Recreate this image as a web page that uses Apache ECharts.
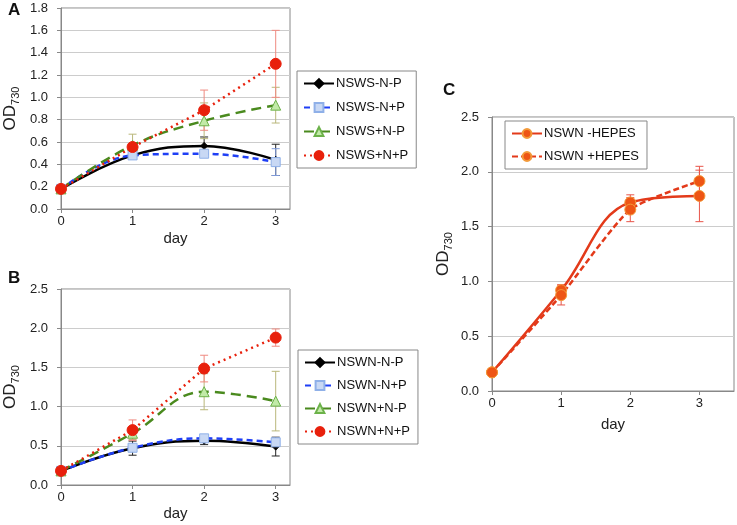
<!DOCTYPE html>
<html>
<head>
<meta charset="utf-8">
<script src="https://cdn.jsdelivr.net/npm/echarts@6/dist/echarts.min.js"></script>
<style>
  html, body { margin: 0; padding: 0; background: #fff; }
  #container { width: 737px; height: 525px; }
</style>
</head>
<body>
<div id="container"></div>
<script>
// days on x
let days = [0, 1, 2, 3];

// panel A (NSWS) - means and +/- error
let aNames = ['NSWS-N-P', 'NSWS-N+P', 'NSWS+N-P', 'NSWS+N+P'];
let aBlack = [0.18, 0.48, 0.565, 0.44];
let aBlackErr = [0.01, 0.02, 0.08, 0.14];
let aBlue = [0.18, 0.48, 0.495, 0.42];
let aBlueErr = [0.01, 0.02, 0.03, 0.12];
let aGreen = [0.18, 0.57, 0.79, 0.93];
let aGreenErr = [0.01, 0.10, 0.16, 0.16];
let aRed = [0.18, 0.555, 0.885, 1.30];
let aRedErr = [0.01, 0.03, 0.18, 0.30];

// panel B (NSWN)
let bNames = ['NSWN-N-P', 'NSWN-N+P', 'NSWN+N-P', 'NSWN+N+P'];
let bBlack = [0.18, 0.47, 0.565, 0.49];
let bBlackErr = [0.01, 0.09, 0.05, 0.12];
let bBlue = [0.18, 0.475, 0.595, 0.545];
let bBlueErr = [0.01, 0.03, 0.03, 0.05];
let bGreen = [0.18, 0.66, 1.19, 1.07];
let bGreenErr = [0.01, 0.08, 0.23, 0.38];
let bRed = [0.18, 0.70, 1.485, 1.88];
let bRedErr = [0.01, 0.13, 0.17, 0.11];

// panel C (HEPES)
let cNames = ['NSWN -HEPES', 'NSWN +HEPES'];
let cMinus = [0.17, 0.92, 1.72, 1.78];
let cMinusErr = [0.01, 0.05, 0.07, 0.235];
let cPlus = [0.17, 0.875, 1.655, 1.915];
let cPlusErr = [0.01, 0.09, 0.11, 0.135];

let font = 'Liberation Sans, Arial, sans-serif';

function pts(vals) {
    return days.map((d, i) => [d, vals[i]]);
}

function errBars(name, vals, errs, color, axis) {
    return {
        name: name + ' err',
        type: 'custom',
        xAxisIndex: axis,
        yAxisIndex: axis,
        silent: true,
        z: 1,
        data: days.map((d, i) => [d, vals[i] - errs[i], vals[i] + errs[i]]),
        renderItem: function (params, api) {
            let lo = api.coord([api.value(0), api.value(1)]);
            let hi = api.coord([api.value(0), api.value(2)]);
            let w = 4;
            let st = { stroke: color, lineWidth: 1 };
            return {
                type: 'group',
                children: [
                    { type: 'line', shape: { x1: lo[0], y1: lo[1], x2: hi[0], y2: hi[1] }, style: st },
                    { type: 'line', shape: { x1: lo[0] - w, y1: lo[1], x2: lo[0] + w, y2: lo[1] }, style: st },
                    { type: 'line', shape: { x1: hi[0] - w, y1: hi[1], x2: hi[0] + w, y2: hi[1] }, style: st }
                ]
            };
        }
    };
}

function lineSeries(name, vals, axis, o) {
    return {
        name: name,
        type: 'line',
        xAxisIndex: axis,
        yAxisIndex: axis,
        data: pts(vals),
        smooth: o.smooth,
        symbol: o.symbol,
        symbolSize: o.size,
        z: 3,
        lineStyle: { color: o.line, width: 2.5, type: o.type },
        itemStyle: { color: o.fill, borderColor: o.border, borderWidth: 1 }
    };
}

let styBlack = { line: '#000', fill: '#000', border: '#000', symbol: 'diamond', size: 7, type: 'solid', smooth: 0.4 };
let styBlue = { line: '#1f3ff5', fill: '#c8d8f4', border: '#8fb0e8', symbol: 'rect', size: 9, type: [6, 4], smooth: 0.4 };
let styGreen = { line: '#4a8a1e', fill: '#c2eaa8', border: '#6cb24a', symbol: 'triangle', size: 10, type: [10, 6], smooth: 0.4 };
let styRed = { line: '#e8200c', fill: '#e8200c', border: '#e8200c', symbol: 'circle', size: 11, type: [2, 4], smooth: 0 };
let styCm = { line: '#e33a1a', fill: '#ee5515', border: '#f39a3a', symbol: 'circle', size: 11, type: 'solid', smooth: 0.4 };
let styCp = { line: '#e33a1a', fill: '#ee5515', border: '#f39a3a', symbol: 'circle', size: 11, type: [6, 3], smooth: 0.2 };

function xAx(grid, max, gap) {
    return {
        type: 'value', gridIndex: grid, min: 0, max: max, interval: 1,
        name: 'day', nameLocation: 'middle', nameGap: gap,
        nameTextStyle: { fontFamily: font, fontSize: 15, color: '#222' },
        axisLine: { lineStyle: { color: '#888' } },
        axisTick: { show: true, length: 4, lineStyle: { color: '#888' }, customValues: days },
        axisLabel: {
            fontFamily: font, fontSize: 13, color: '#222', margin: 6, customValues: days,
            formatter: (v) => Number.isInteger(v) ? String(v) : ''
        },
        splitLine: { show: false }
    };
}

function yAx(grid, max, step, gap) {
    return {
        type: 'value', gridIndex: grid, min: 0, max: max, interval: step,
        name: '{a|OD}{b|730}', nameLocation: 'middle', nameGap: gap,
        nameTextStyle: {
            fontFamily: font, color: '#222',
            rich: {
                a: { fontFamily: font, fontSize: 17, color: '#222', lineHeight: 22 },
                b: { fontFamily: font, fontSize: 11, color: '#222', lineHeight: 22, verticalAlign: 'bottom', padding: [9, 0, 0, 0] }
            }
        },
        axisLine: { show: true, lineStyle: { color: '#888' } },
        axisTick: { show: true, length: 4, lineStyle: { color: '#888' } },
        axisLabel: { fontFamily: font, fontSize: 13, color: '#222', margin: 13, formatter: (v) => v.toFixed(1) },
        splitLine: { show: true, lineStyle: { color: '#ccc', width: 1 } }
    };
}

function legendBox(names, left, top, gap) {
    return {
        orient: 'vertical', left: left, top: top,
        data: names,
        itemWidth: 30, itemHeight: 11, itemGap: gap,
        padding: [6, 8, 6, 6],
        borderColor: '#888', borderWidth: 1,
        textStyle: { fontFamily: font, fontSize: 13, color: '#111', padding: [0, 0, 0, -3] },
        selectedMode: false
    };
}

let chart = echarts.init(document.getElementById('container'));

chart.setOption({
    backgroundColor: '#fff',
    animation: false,
    grid: [
        { left: 61, top: 8, width: 229, height: 201, show: true, borderColor: '#888', borderWidth: 1 },
        { left: 61, top: 289, width: 229, height: 196, show: true, borderColor: '#888', borderWidth: 1 },
        { left: 492, top: 117, width: 242, height: 274, show: true, borderColor: '#888', borderWidth: 1 }
    ],
    xAxis: [xAx(0, 3.2, 22), xAx(1, 3.2, 21), xAx(2, 3.5, 26)],
    yAxis: [yAx(0, 1.8, 0.2, 40), yAx(1, 2.5, 0.5, 40), yAx(2, 2.5, 0.5, 38)],
    legend: [
        legendBox(aNames, 297, 71, 11),
        legendBox(bNames, 298, 350, 10),
        legendBox(cNames, 505, 121, 10)
    ],
    graphic: [
        { type: 'text', left: 8, top: 2, style: { text: 'A', font: 'bold 17px ' + font, fill: '#111' } },
        { type: 'text', left: 8, top: 270, style: { text: 'B', font: 'bold 17px ' + font, fill: '#111' } },
        { type: 'text', left: 443, top: 82, style: { text: 'C', font: 'bold 17px ' + font, fill: '#111' } }
    ],
    series: [
        errBars(aNames[0], aBlack, aBlackErr, '#222', 0),
        errBars(aNames[1], aBlue, aBlueErr, '#7d98d8', 0),
        errBars(aNames[2], aGreen, aGreenErr, '#b9b77a', 0),
        errBars(aNames[3], aRed, aRedErr, '#ef8a80', 0),
        lineSeries(aNames[0], aBlack, 0, styBlack),
        lineSeries(aNames[1], aBlue, 0, styBlue),
        lineSeries(aNames[2], aGreen, 0, styGreen),
        lineSeries(aNames[3], aRed, 0, styRed),

        errBars(bNames[0], bBlack, bBlackErr, '#222', 1),
        errBars(bNames[1], bBlue, bBlueErr, '#7d98d8', 1),
        errBars(bNames[2], bGreen, bGreenErr, '#b9b77a', 1),
        errBars(bNames[3], bRed, bRedErr, '#ef8a80', 1),
        lineSeries(bNames[0], bBlack, 1, styBlack),
        lineSeries(bNames[1], bBlue, 1, styBlue),
        lineSeries(bNames[2], bGreen, 1, styGreen),
        lineSeries(bNames[3], bRed, 1, styRed),

        errBars(cNames[0], cMinus, cMinusErr, '#e8554a', 2),
        errBars(cNames[1], cPlus, cPlusErr, '#e8554a', 2),
        lineSeries(cNames[0], cMinus, 2, styCm),
        lineSeries(cNames[1], cPlus, 2, styCp)
    ]
});
</script>
</body>
</html>
